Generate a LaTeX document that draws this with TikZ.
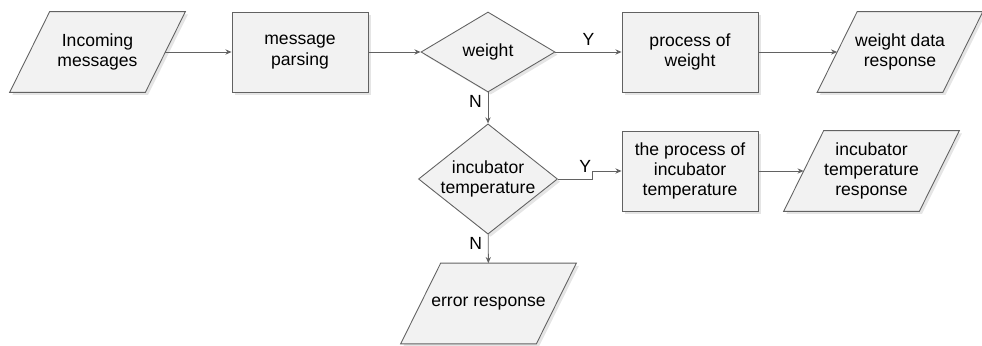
\documentclass[tikz,border=0pt]{standalone}
\usepackage{fontspec}
\setmainfont{Liberation Sans}
\usetikzlibrary{shapes.geometric,arrows.meta,shadows,backgrounds}
\definecolor{edgegray}{HTML}{626262}
\definecolor{boxfill}{HTML}{F2F2F2}
\tikzset{
  base/.style={draw=edgegray, fill=boxfill, line width=0.5pt,
    drop shadow={shadow xshift=1.5pt, shadow yshift=-1.5pt, fill=black, opacity=0.1}},
  label text/.style={align=center, font=\fontsize{10}{11.5}\selectfont},
  procbox/.style={base, label text, rectangle, minimum width=2.72cm, minimum height=1.6cm},
  iobox/.style={label text, rectangle, minimum width=2.7cm, minimum height=1.6cm, inner sep=0pt},
  decide/.style={base, label text, diamond, inner sep=-3pt},
  flow/.style={draw=edgegray, line width=0.5pt, -{Stealth[length=3.5pt,width=3pt]}},
  tag/.style={font=\fontsize{10}{11.5}\selectfont}
}
\begin{document}
\begin{tikzpicture}
    \useasboundingbox (0,0) rectangle (19.64,-6.9);
    % first row
    \node[iobox] (inmsg) at (1.95,-1.04) {Incoming\\messages};
    \node[procbox] (parse) at (6.0,-1.04) {message\\parsing};
    \node[decide, minimum width=2.68cm, minimum height=1.6cm] (wt) at (9.76,-1.04) {weight};
    \node[procbox] (procw) at (13.8,-1.04) {process of\\weight};
    \node[iobox, minimum width=2.5cm] (wresp) at (18.0,-1.04) {weight data\\response};
    % second row
    \node[decide, minimum width=2.78cm, minimum height=1.92cm] (temp) at (9.76,-3.58) {incubator\\temperature};
    \node[procbox] (proct) at (13.8,-3.42) {the process of\\incubator\\temperature};
    \node[iobox] (tresp) at (17.43,-3.42) {incubator\\temperature\\response};
    % last one
    \node[iobox] (err) at (9.77,-6.07) {error response};
    \coordinate (jog) at ([xshift=0.68cm]temp.east);

    % slanted frames of the input/output nodes
    \begin{scope}[on background layer]
      \foreach \n in {inmsg,wresp,tresp,err}
        \draw[base] ([xshift=-0.4cm]\n.south west) -- ([xshift=-0.4cm]\n.south east)
          -- ([xshift=0.4cm]\n.north east) -- ([xshift=0.4cm]\n.north west) -- cycle;
    \end{scope}

    \draw[flow] (inmsg) -- (parse);
    \draw[flow] (parse) -- (wt);
    \draw[flow] (wt) -- node[tag, above] {Y} (procw);
    \draw[flow] (procw) -- (wresp);
    \draw[flow] (wt) -- node[tag, left, pos=0.3] {N} (temp);
    \draw[flow] (temp.east) -- node[tag, above, pos=0.8] {Y} (jog) |- (proct.west);
    \draw[flow] (proct) -- (tresp);
    \draw[flow] (temp) -- node[tag, left, pos=0.3] {N} (err);
\end{tikzpicture}
\end{document}
